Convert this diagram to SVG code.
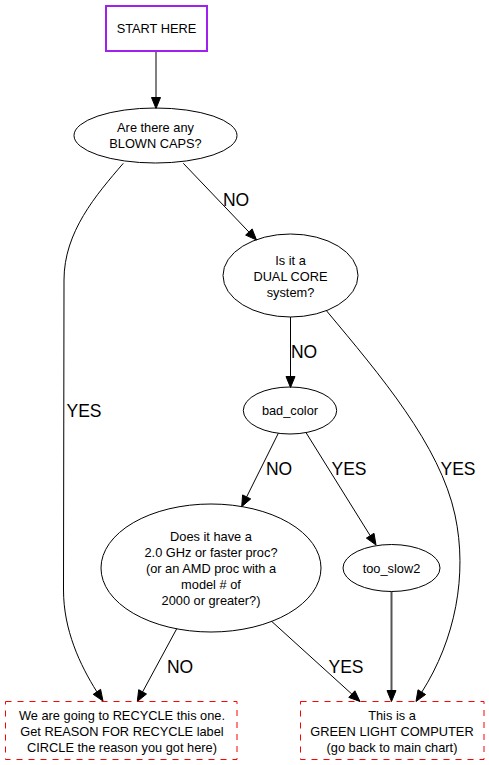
<svg xmlns="http://www.w3.org/2000/svg" width="489" height="765" viewBox="0 0 489 765">
<style>
  .node-text { font-family: "Liberation Sans", Arial, sans-serif; font-size: 12.8px; fill: #000; text-anchor: middle; }
  .edge-label { font-family: "Liberation Sans", Arial, sans-serif; font-size: 17.5px; fill: #000; text-anchor: middle; }
  .ell { fill: none; stroke: #000; stroke-width: 1; }
  .term { fill: none; stroke: #ff0000; stroke-width: 1; stroke-dasharray: 6,6; }
  .edge { fill: none; stroke: #000; stroke-width: 1; }
  .head { fill: #000; stroke: #000; stroke-width: 1; }
</style>
<rect width="489" height="765" fill="#fff"/>

<g id="connectors">
  <!-- START -> BLOWN CAPS -->
  <path class="edge" d="M156,52 L156,97.5"/>
  <polygon class="head" points="151.5,97.5 156,108.5 160.5,97.5"/>
  <!-- BLOWN CAPS -> DUAL CORE (NO) -->
  <path class="edge" d="M183.3,163.3 L248.9,232"/>
  <polygon class="head" points="245.65,235.1 256.5,240 252.15,228.9"/>
  <text class="edge-label" x="236" y="206">NO</text>
  <!-- BLOWN CAPS -> RECYCLE (YES) -->
  <path class="edge" d="M123.3,163.3 C96,195 64,232 64,280 L63.5,590 C63.5,630 80,665 96.9,691.85"/>
  <polygon class="head" points="93.2,694.35 103,701 100.6,689.35"/>
  <text class="edge-label" x="84" y="417">YES</text>
  <!-- DUAL CORE -> bad_color (NO) -->
  <path class="edge" d="M290.5,317 L290.5,376.5"/>
  <polygon class="head" points="286,376.5 290.5,387.5 295,376.5"/>
  <text class="edge-label" x="304" y="358">NO</text>
  <!-- DUAL CORE -> GREEN (YES) -->
  <path class="edge" d="M326.7,311 C380,375 440,445 455,515 C468,575 455,640 421.8,692.1"/>
  <polygon class="head" points="418,689.8 416,701.5 425.6,694.5"/>
  <text class="edge-label" x="458" y="475">YES</text>
  <!-- bad_color -> proc (NO) -->
  <path class="edge" d="M278.3,433.3 L246.65,496.9"/>
  <polygon class="head" points="242.6,494.9 241.7,506.7 250.7,498.9"/>
  <text class="edge-label" x="279" y="475">NO</text>
  <!-- bad_color -> too_slow2 (YES) -->
  <path class="edge" d="M306,432.6 L370.2,535.7"/>
  <polygon class="head" points="366.4,538.1 376,545 374,533.3"/>
  <text class="edge-label" x="349" y="475">YES</text>
  <!-- too_slow2 -> GREEN -->
  <path class="edge" style="stroke:#555;stroke-width:2" d="M391.5,591.5 L391.5,690.5"/>
  <polygon class="head" points="387,690.5 391.5,701.5 396,690.5"/>
  <!-- proc -> RECYCLE (NO) -->
  <path class="edge" d="M176.7,628.8 L142.6,691.9"/>
  <polygon class="head" points="138.7,689.7 137.3,701.5 146.5,694"/>
  <text class="edge-label" x="180" y="673">NO</text>
  <!-- proc -> GREEN (YES) -->
  <path class="edge" d="M271.7,621.4 L351.85,694.1"/>
  <polygon class="head" points="348.8,697.4 360,701.5 354.9,690.8"/>
  <text class="edge-label" x="346" y="673">YES</text>
</g>

<g id="start">
  <rect x="106" y="6" width="101" height="45" fill="none" stroke="#a020f0" stroke-width="2"/>
  <text class="node-text" x="156.5" y="33">START HERE</text>
</g>

<g id="blown_caps">
  <ellipse class="ell" cx="155.5" cy="135.5" rx="81.5" ry="27.5"/>
  <text class="node-text" x="155.5" y="132">Are there any</text>
  <text class="node-text" x="155.5" y="148">BLOWN CAPS?</text>
</g>

<g id="dual_core">
  <ellipse class="ell" cx="290.5" cy="275.5" rx="67.5" ry="41.5"/>
  <text class="node-text" x="290.5" y="264.5">Is it a</text>
  <text class="node-text" x="290.5" y="280.5">DUAL CORE</text>
  <text class="node-text" x="290.5" y="296.5">system?</text>
</g>

<g id="bad_color">
  <ellipse class="ell" cx="290" cy="410.5" rx="46.7" ry="23.5"/>
  <text class="node-text" x="290" y="415">bad_color</text>
</g>

<g id="too_slow2">
  <ellipse class="ell" cx="391.5" cy="568" rx="48.5" ry="23.5"/>
  <text class="node-text" x="391.5" y="572.5">too_slow2</text>
</g>

<g id="proc_speed">
  <ellipse class="ell" cx="211" cy="568" rx="110" ry="64"/>
  <text class="node-text" x="211" y="540.5">Does it have a</text>
  <text class="node-text" x="211" y="556.5">2.0 GHz or faster proc?</text>
  <text class="node-text" x="211" y="572.5">(or an AMD proc with a</text>
  <text class="node-text" x="211" y="588.5">model # of</text>
  <text class="node-text" x="211" y="604.5">2000 or greater?)</text>
</g>

<g id="recycle">
  <rect class="term" x="5.5" y="701.5" width="231.5" height="58"/>
  <text class="node-text" x="122" y="719.5">We are going to RECYCLE this one.</text>
  <text class="node-text" x="122" y="735.5">Get REASON FOR RECYCLE label</text>
  <text class="node-text" x="122" y="751.5">CIRCLE the reason you got here)</text>
</g>

<g id="green_light">
  <rect class="term" x="300.5" y="701.5" width="183.5" height="58"/>
  <text class="node-text" x="392" y="719.5">This is a</text>
  <text class="node-text" x="392" y="735.5">GREEN LIGHT COMPUTER</text>
  <text class="node-text" x="392" y="751.5">(go back to main chart)</text>
</g>
</svg>
